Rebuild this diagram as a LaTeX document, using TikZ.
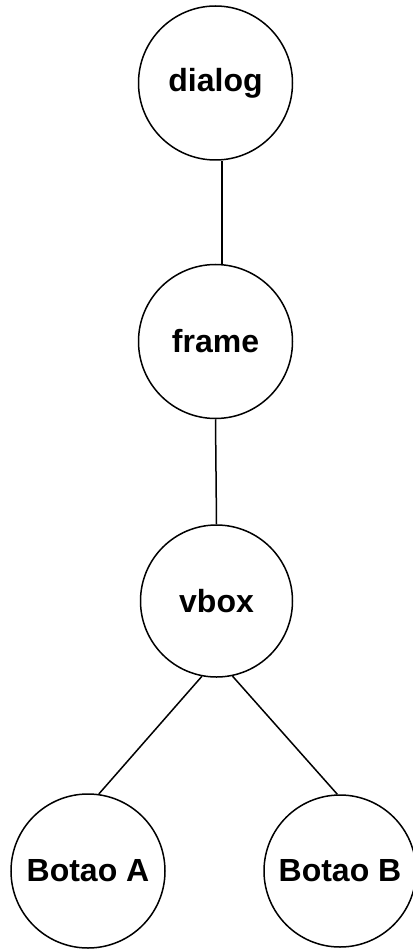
\documentclass[tikz,border=0pt]{standalone}
\usepackage{fontspec}
\setmainfont{Liberation Sans}
\begin{document}
\begin{tikzpicture}[x=1pt,y=-1pt,
  treenode/.style={circle,draw=black,line width=1.5pt,fill=white,
    minimum size=154pt,inner sep=0pt,
    font=\fontsize{32}{37}\selectfont\bfseries},
  smallnode/.style={treenode,minimum size=152pt},
  link/.style={draw=black,line width=1.5pt}]
\useasboundingbox (0,0) rectangle (412,949);
\node[treenode]  (dialog) at (215.5,83)  {dialog};
\node[treenode]  (frame)  at (215.5,341.5) {frame};
\node[smallnode] (vbox)   at (216.5,601) {vbox};
\node[treenode]  (botaoA) at (88,871)    {Botao A};
\node[smallnode] (botaoB) at (340,871)   {Botao B};
\draw[link] ([xshift=6.5pt]dialog.south) -- ([xshift=6.5pt]frame.north);
\draw[link] (frame.south) -- (vbox.north);
\draw[link] (vbox.-101) -- (botaoA.82.5);
\draw[link] (vbox.-78) -- (botaoB.92);
\end{tikzpicture}
\end{document}
